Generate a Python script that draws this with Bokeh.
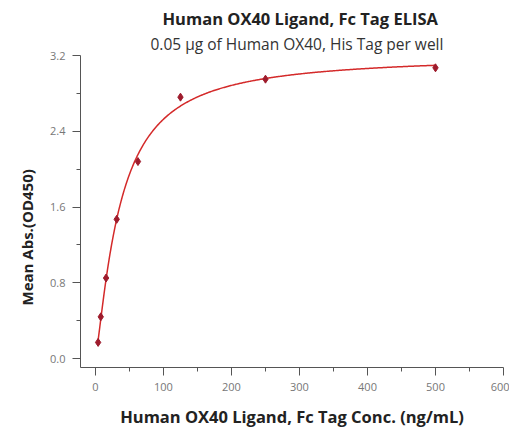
import numpy as np
from bokeh.plotting import figure
from bokeh.models import FixedTicker, NumeralTickFormatter, Title, Range1d
from bokeh.embed import file_html
from bokeh.resources import INLINE

title_text = "Human OX40 Ligand, Fc Tag ELISA"
subtitle_text = "0.05 \u03bcg of Human OX40, His Tag per well"
x_label = "Human OX40 Ligand, Fc Tag Conc. (ng/mL)"
y_label = "Mean Abs.(OD450)"

conc = [3.9, 7.8, 15.6, 31.25, 62.5, 125, 250, 500]
od = [0.17, 0.44, 0.85, 1.47, 2.08, 2.76, 2.95, 3.07]

x_major = [0, 100, 200, 300, 400, 500, 600]
x_minor = [50, 150, 250, 350, 450, 550]
y_major = [0.0, 0.8, 1.6, 2.4, 3.2]
y_minor = [0.4, 1.2, 2.0, 2.8]

# 4-parameter logistic fit to the measured points
xa = np.array(conc)
ya = np.array(od)
best = None
for c in np.logspace(1, 3, 200):
    for b in np.linspace(0.5, 2.5, 81):
        g = 1.0 / (1.0 + (xa / c) ** b)
        A = np.vstack([g, 1 - g]).T
        coef, *_ = np.linalg.lstsq(A, ya, rcond=None)
        r = np.sum((A @ coef - ya) ** 2)
        if best is None or r < best[0]:
            best = (r, c, b, coef)
_, c_fit, b_fit, (a_fit, d_fit) = best
xs = np.linspace(min(conc), max(conc), 400)
gs = 1.0 / (1.0 + (xs / c_fit) ** b_fit)
ys = a_fit * gs + d_fit * (1 - gs)

p = figure(width=509, height=432, output_backend="svg", toolbar_location=None,
           x_range=Range1d(-22, 600), y_range=Range1d(-0.095, 3.2),
           min_border_left=80, min_border_right=6, min_border_top=55, min_border_bottom=65)
p.outline_line_color = None
p.grid.visible = False
p.background_fill_color = "white"
p.border_fill_color = "white"

p.line(xs, ys, line_color="#d42a2a", line_width=1.5)
p.scatter(conc, od, marker="diamond", size=8, color="#9e1b2c")

for ax, maj, mnr in ((p.xaxis[0], x_major, x_minor), (p.yaxis[0], y_major, y_minor)):
    ax.ticker = FixedTicker(ticks=maj, minor_ticks=mnr)
    ax.axis_line_color = "#555555"
    ax.major_tick_line_color = "#555555"
    ax.minor_tick_line_color = "#555555"
    ax.major_tick_out = 8
    ax.major_tick_in = 0
    ax.minor_tick_out = 4
    ax.minor_tick_in = 0
    ax.major_label_text_font = "Open Sans"
    ax.major_label_text_font_size = "11px"
    ax.major_label_text_color = "#777777"
    ax.major_label_standoff = 7
    ax.axis_label_text_font = "Open Sans"
    ax.axis_label_text_font_style = "bold"
    ax.axis_label_text_color = "#222222"

p.yaxis.formatter = NumeralTickFormatter(format="0.0")
p.xaxis.axis_label = x_label
p.xaxis.axis_label_text_font_size = "16.5px"
p.xaxis.axis_label_standoff = 11

# y-axis label as a side title so it can sit slightly below the frame centre
p.add_layout(Title(text=y_label, align="left", vertical_align="middle",
                   text_font="Open Sans", text_font_style="bold", text_font_size="15px",
                   text_color="#222222", standoff=20, offset=62), "left")

p.add_layout(Title(text=subtitle_text, align="left", text_font="Open Sans",
                   text_font_style="normal", text_font_size="15.5px",
                   text_color="#333333", standoff=1, offset=70), "above")
p.add_layout(Title(text=title_text, align="left", text_font="Open Sans",
                   text_font_style="bold", text_font_size="16.5px",
                   text_color="#222222", standoff=1, offset=82), "above")

open("out.html", "w").write(file_html(p, INLINE))
